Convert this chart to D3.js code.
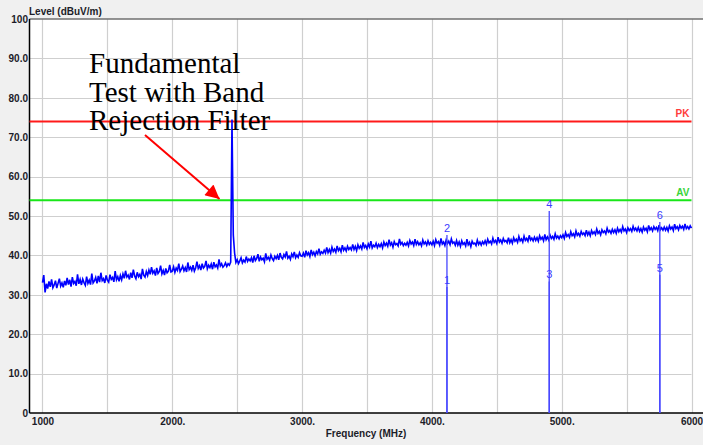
<!DOCTYPE html>
<html>
<head>
<meta charset="utf-8">
<script src="https://cdn.jsdelivr.net/npm/d3@7"></script>
<style>
  body { margin: 0; background: #f0f0f0; }
  text { font-family: "Liberation Sans", Arial, sans-serif; }
  text.note { font-family: "Liberation Serif", "Times New Roman", serif; }
</style>
</head>
<body>
<div id="graph"></div>
<script>
// Balayage : premiere frequence et pas (MHz), puis niveaux mesures (dBuV/m)
var freqStart = 1000, freqStep = 10;
var niveaux = [
  33.1, 35.0, 30.6, 32.8, 31.6, 33.4, 32.0, 33.9, 31.8, 32.5, 33.6, 31.7, 32.9, 34.1, 32.2, 33.0, 31.9, 33.5, 32.4, 34.3,
  32.6, 33.8, 32.1, 34.5, 32.9, 33.4, 32.3, 35.2, 32.8, 33.9, 32.5, 34.0, 33.1, 32.4, 34.6, 32.9, 33.7, 32.6, 35.4, 33.0,
  33.5, 34.4, 32.9, 34.8, 33.2, 35.6, 33.6, 34.1, 33.0, 34.9, 33.7, 33.2, 35.1, 33.9, 34.4, 33.3, 36.0, 33.8, 34.6, 33.4,
  34.9, 33.8, 35.3, 34.2, 36.1, 34.5, 35.0, 33.9, 35.6, 34.3, 36.4, 34.8, 34.1, 35.7, 34.6, 35.2, 34.0, 36.6, 35.0, 34.5,
  35.9, 34.9, 36.3, 35.2, 37.0, 35.5, 36.1, 34.9, 36.8, 35.4, 35.9, 37.4, 35.3, 36.2, 35.0, 36.7, 35.6, 36.0, 37.6, 35.8,
  36.0, 37.1, 35.7, 36.8, 36.2, 37.9, 35.9, 36.5, 37.3, 36.1, 36.9, 35.8, 38.2, 36.4, 37.0, 36.2, 37.5, 36.0, 36.8, 38.4,
  36.7, 37.4, 36.3, 37.9, 36.8, 37.2, 38.6, 36.6, 37.5, 36.9, 37.8, 36.5, 38.3, 37.1, 37.6, 36.8, 39.0, 37.3, 37.9, 37.0,
  37.4, 38.1, 37.2, 37.9, 37.5, 38.3, 74.5, 45.2, 40.6, 38.2, 38.9, 37.9, 38.6, 39.4, 38.1, 38.8, 38.3, 39.7, 38.5, 39.1,
  38.6, 39.4, 38.2, 39.9, 38.7, 39.2, 40.3, 38.5, 39.6, 38.9, 39.3, 38.4, 40.5, 39.0, 39.5, 38.8, 40.1, 39.2, 38.7, 39.8,
  39.2, 40.0, 38.9, 40.6, 39.5, 39.1, 40.2, 39.6, 41.0, 39.3, 39.8, 39.0, 40.4, 39.7, 40.9, 39.4, 40.1, 39.5, 40.7, 39.9,
  39.8, 40.6, 39.5, 41.2, 40.1, 40.7, 39.7, 41.4, 40.2, 40.8, 39.9, 41.0, 40.4, 41.7, 40.3, 40.9, 40.5, 41.3, 40.6, 42.0,
  40.7, 41.5, 40.6, 42.1, 41.0, 41.6, 40.8, 42.4, 41.2, 41.8, 40.9, 42.6, 41.3, 41.9, 41.1, 42.3, 41.5, 42.0, 41.4, 42.8,
  41.5, 42.3, 41.2, 42.7, 41.8, 42.4, 41.6, 43.3, 42.0, 42.5, 41.7, 42.9, 42.1, 43.6, 41.9, 42.6, 42.2, 43.1, 42.0, 42.8,
  42.2, 43.0, 41.9, 43.4, 42.5, 43.1, 42.3, 44.0, 42.6, 43.2, 42.1, 43.5, 42.7, 43.0, 42.4, 44.2, 42.8, 43.3, 42.5, 43.1,
  42.6, 43.3, 42.4, 43.8, 42.9, 43.4, 42.5, 44.1, 42.8, 43.5, 42.7, 43.2, 42.4, 43.9, 42.9, 43.4, 42.6, 43.7, 42.8, 43.3,
  42.7, 43.6, 42.5, 44.0, 43.1, 43.5, 42.6, 44.3, 42.9, 43.4, 42.5, 43.9, 43.0, 43.6, 42.7, 44.2, 43.1, 43.4, 42.6, 43.8,
  42.6, 43.4, 42.3, 43.7, 42.8, 43.2, 42.4, 44.1, 42.7, 43.3, 42.2, 43.6, 42.9, 43.1, 42.5, 43.9, 42.8, 43.4, 42.6, 43.5,
  42.9, 43.7, 42.8, 44.1, 43.2, 43.6, 42.9, 44.4, 43.3, 43.8, 43.0, 44.6, 43.4, 43.9, 43.1, 44.3, 43.5, 43.8, 43.2, 44.5,
  43.2, 44.0, 43.1, 44.5, 43.6, 44.1, 43.3, 44.8, 43.7, 44.2, 43.4, 44.9, 43.8, 44.3, 43.6, 45.1, 43.9, 44.4, 43.7, 44.6,
  43.8, 44.5, 43.6, 45.0, 44.1, 44.6, 43.7, 45.3, 44.0, 44.7, 43.9, 45.2, 44.3, 44.8, 44.1, 45.5, 44.4, 44.9, 44.2, 45.0,
  44.5, 45.2, 44.3, 45.8, 44.8, 45.3, 44.6, 46.0, 45.0, 45.5, 44.7, 46.2, 45.1, 45.6, 44.9, 46.1, 45.3, 45.7, 45.0, 46.4,
  45.2, 45.9, 45.0, 46.3, 45.5, 46.0, 45.3, 46.7, 45.6, 46.1, 45.2, 46.5, 45.8, 46.2, 45.5, 46.9, 45.9, 46.3, 45.6, 46.6,
  45.8, 46.5, 45.6, 46.9, 46.0, 46.6, 45.9, 47.3, 46.2, 46.7, 45.8, 47.0, 46.3, 46.8, 46.1, 47.4, 46.4, 46.9, 46.2, 47.1,
  46.1, 46.8, 45.9, 47.2, 46.4, 46.9, 46.0, 47.6, 46.5, 47.0, 46.2, 47.3, 46.6, 47.1, 46.3, 47.7, 46.5, 47.0, 46.4, 47.2,
  46.4, 47.1, 46.2, 47.5, 46.7, 47.2, 46.3, 47.9, 46.8, 47.3, 46.5, 47.6, 46.9, 47.4, 46.6, 48.0, 46.8, 47.3, 46.7, 47.5,
  46.9
];

// Marqueurs (numero, frequence MHz, niveau dBuV/m)
var marqueurNoms = ["1", "2", "3", "4", "5", "6"];
var marqueurFreqs = [4116, 4116, 4904, 4904, 5756, 5756];
var marqueurNiveaux = [32.0, 45.2, 33.4, 51.3, 35.1, 48.5];

// Limites
var limiteNoms = ["PK", "AV"];
var limiteValeurs = [74, 54];
var limiteCouleurs = ["#ff1a1a", "#19e619"];
var limiteTexteCouleurs = ["#ff3b3b", "#3ad43a"];

// Graduations
var xTicks = [1000, 2000, 3000, 4000, 5000, 6000];
var xTickLabels = ["1000", "2000.", "3000.", "4000.", "5000.", "6000"];
var xGrille = [1000, 1500, 2000, 2500, 3000, 3500, 4000, 4500, 5000, 5500, 6000];
var yTicks = [0, 10, 20, 30, 40, 50, 60, 70, 80, 90, 100];
var yTickLabels = ["0", "10.0", "20.0", "30.0", "40.0", "50.0", "60.0", "70.0", "80.0", "90.0", "100"];

// Annotation
var noteLignes = ["Fundamental", "Test with Band", "Rejection Filter"];

var largeurTotale = 703, hauteurTotale = 445;
var gauche = 29.5, droite = 691.5, haut = 19, bas = 413;

var echelleX = d3.scaleLinear().domain([900, 6000]).range([gauche, droite]);
var echelleY = d3.scaleLinear().domain([0, 100]).range([bas, haut]);

var svg = d3.select("#graph").append("svg")
    .attr("width", largeurTotale)
    .attr("height", hauteurTotale);

svg.append("rect")
    .attr("width", largeurTotale).attr("height", hauteurTotale)
    .attr("fill", "#f0f0f0");

// zone de trace
svg.append("rect")
    .attr("x", gauche).attr("y", haut)
    .attr("width", largeurTotale - gauche).attr("height", bas - haut)
    .attr("fill", "#ffffff");

// grille
svg.append("g").selectAll("line")
  .data(xGrille).enter().append("line")
    .attr("x1", function(d) { return Math.round(echelleX(d)) + 0.5; })
    .attr("x2", function(d) { return Math.round(echelleX(d)) + 0.5; })
    .attr("y1", haut).attr("y2", bas)
    .attr("stroke", "#cfcfcf").attr("stroke-width", 1.2);

svg.append("g").selectAll("line")
  .data(yTicks.slice(1, -1)).enter().append("line")
    .attr("x1", gauche).attr("x2", droite)
    .attr("y1", function(d) { return Math.round(echelleY(d)) + 0.5; })
    .attr("y2", function(d) { return Math.round(echelleY(d)) + 0.5; })
    .attr("stroke", "#cfcfcf").attr("stroke-width", 1.2);

// cadre
svg.append("line")
    .attr("x1", gauche).attr("x2", largeurTotale)
    .attr("y1", haut).attr("y2", haut)
    .attr("stroke", "#707070").attr("stroke-width", 1.5);
svg.append("line")
    .attr("x1", gauche).attr("x2", largeurTotale)
    .attr("y1", bas).attr("y2", bas)
    .attr("stroke", "#000").attr("stroke-width", 1.5);
svg.append("line")
    .attr("x1", gauche).attr("x2", gauche)
    .attr("y1", haut).attr("y2", bas)
    .attr("stroke", "#000").attr("stroke-width", 1.5);

// axes
var axeX = d3.axisBottom(echelleX)
    .tickValues(xTicks)
    .tickFormat(function(d, i) { return xTickLabels[i]; })
    .tickSize(0).tickPadding(5);
var gX = svg.append("g")
    .attr("transform", "translate(0," + bas + ")")
    .call(axeX);
gX.select(".domain").remove();
gX.selectAll("text")
    .attr("font-size", "10px").attr("font-weight", "bold")
    .attr("fill", "#1c1c28");

var axeY = d3.axisLeft(echelleY)
    .tickValues(yTicks)
    .tickFormat(function(d, i) { return yTickLabels[i]; })
    .tickSize(0).tickPadding(1.5);
var gY = svg.append("g")
    .attr("transform", "translate(" + gauche + ",0)")
    .call(axeY);
gY.select(".domain").remove();
gY.selectAll("text")
    .attr("font-size", "10px").attr("font-weight", "bold")
    .attr("fill", "#1c1c28");

svg.append("text")
    .attr("x", 29).attr("y", 15)
    .attr("font-size", "10px").attr("font-weight", "bold")
    .attr("fill", "#1c1c28")
    .text("Level (dBuV/m)");

svg.append("text")
    .attr("x", 366).attr("y", 437)
    .attr("text-anchor", "middle")
    .attr("font-size", "10px").attr("font-weight", "bold")
    .attr("fill", "#1c1c28")
    .text("Frequency (MHz)");

// limites PK / AV
var limites = limiteNoms.map(function(n, i) {
  return { nom: n, val: limiteValeurs[i], c: limiteCouleurs[i], tc: limiteTexteCouleurs[i] };
});
svg.append("g").selectAll("line")
  .data(limites).enter().append("line")
    .attr("x1", gauche).attr("x2", droite)
    .attr("y1", function(d) { return echelleY(d.val); })
    .attr("y2", function(d) { return echelleY(d.val); })
    .attr("stroke", function(d) { return d.c; })
    .attr("stroke-width", 2);
svg.append("g").selectAll("text")
  .data(limites).enter().append("text")
    .attr("x", droite - 2)
    .attr("y", function(d) { return echelleY(d.val) - 4; })
    .attr("text-anchor", "end")
    .attr("font-size", "10px").attr("font-weight", "bold")
    .attr("fill", function(d) { return d.tc; })
    .text(function(d) { return d.nom; });

// trace mesuree
var trace = niveaux.map(function(v, i) { return { f: freqStart + i * freqStep, v: v }; });
var ligne = d3.line()
    .x(function(d) { return echelleX(d.f); })
    .y(function(d) { return echelleY(d.v); });
svg.append("path")
    .datum(trace)
    .attr("d", ligne)
    .attr("fill", "none")
    .attr("stroke", "#0000ff")
    .attr("stroke-width", 1.6);

// marqueurs
var marqueurs = marqueurNoms.map(function(n, i) {
  return { nom: n, f: marqueurFreqs[i], v: marqueurNiveaux[i] };
});
svg.append("g").selectAll("line")
  .data(marqueurs).enter().append("line")
    .attr("x1", function(d) { return echelleX(d.f); })
    .attr("x2", function(d) { return echelleX(d.f); })
    .attr("y1", function(d) { return echelleY(d.v); })
    .attr("y2", bas)
    .attr("stroke", "#4646ff").attr("stroke-width", 1.3);
svg.append("g").selectAll("text")
  .data(marqueurs).enter().append("text")
    .attr("x", function(d) { return echelleX(d.f); })
    .attr("y", function(d) { return echelleY(d.v) - 3; })
    .attr("text-anchor", "middle")
    .attr("font-size", "11px")
    .attr("fill", "#3c3cff")
    .text(function(d) { return d.nom; });

// annotation
svg.append("g").selectAll("text")
  .data(noteLignes).enter().append("text")
    .attr("class", "note")
    .attr("x", 89)
    .attr("y", function(d, i) { return 73 + i * 28.5; })
    .attr("font-size", "29px")
    .attr("fill", "#000")
    .text(function(d) { return d; });

svg.append("defs").append("marker")
    .attr("id", "fleche")
    .attr("viewBox", "0 0 10 10")
    .attr("refX", 10).attr("refY", 5)
    .attr("markerWidth", 10).attr("markerHeight", 7)
    .attr("markerUnits", "strokeWidth")
    .attr("orient", "auto")
  .append("path")
    .attr("d", "M0,0L10,5L0,10z")
    .attr("fill", "#ff0000");

svg.append("line")
    .attr("x1", 145).attr("y1", 135)
    .attr("x2", 219.5).attr("y2", 199)
    .attr("stroke", "#ff0000").attr("stroke-width", 2)
    .attr("marker-end", "url(#fleche)");
</script>
</body>
</html>
